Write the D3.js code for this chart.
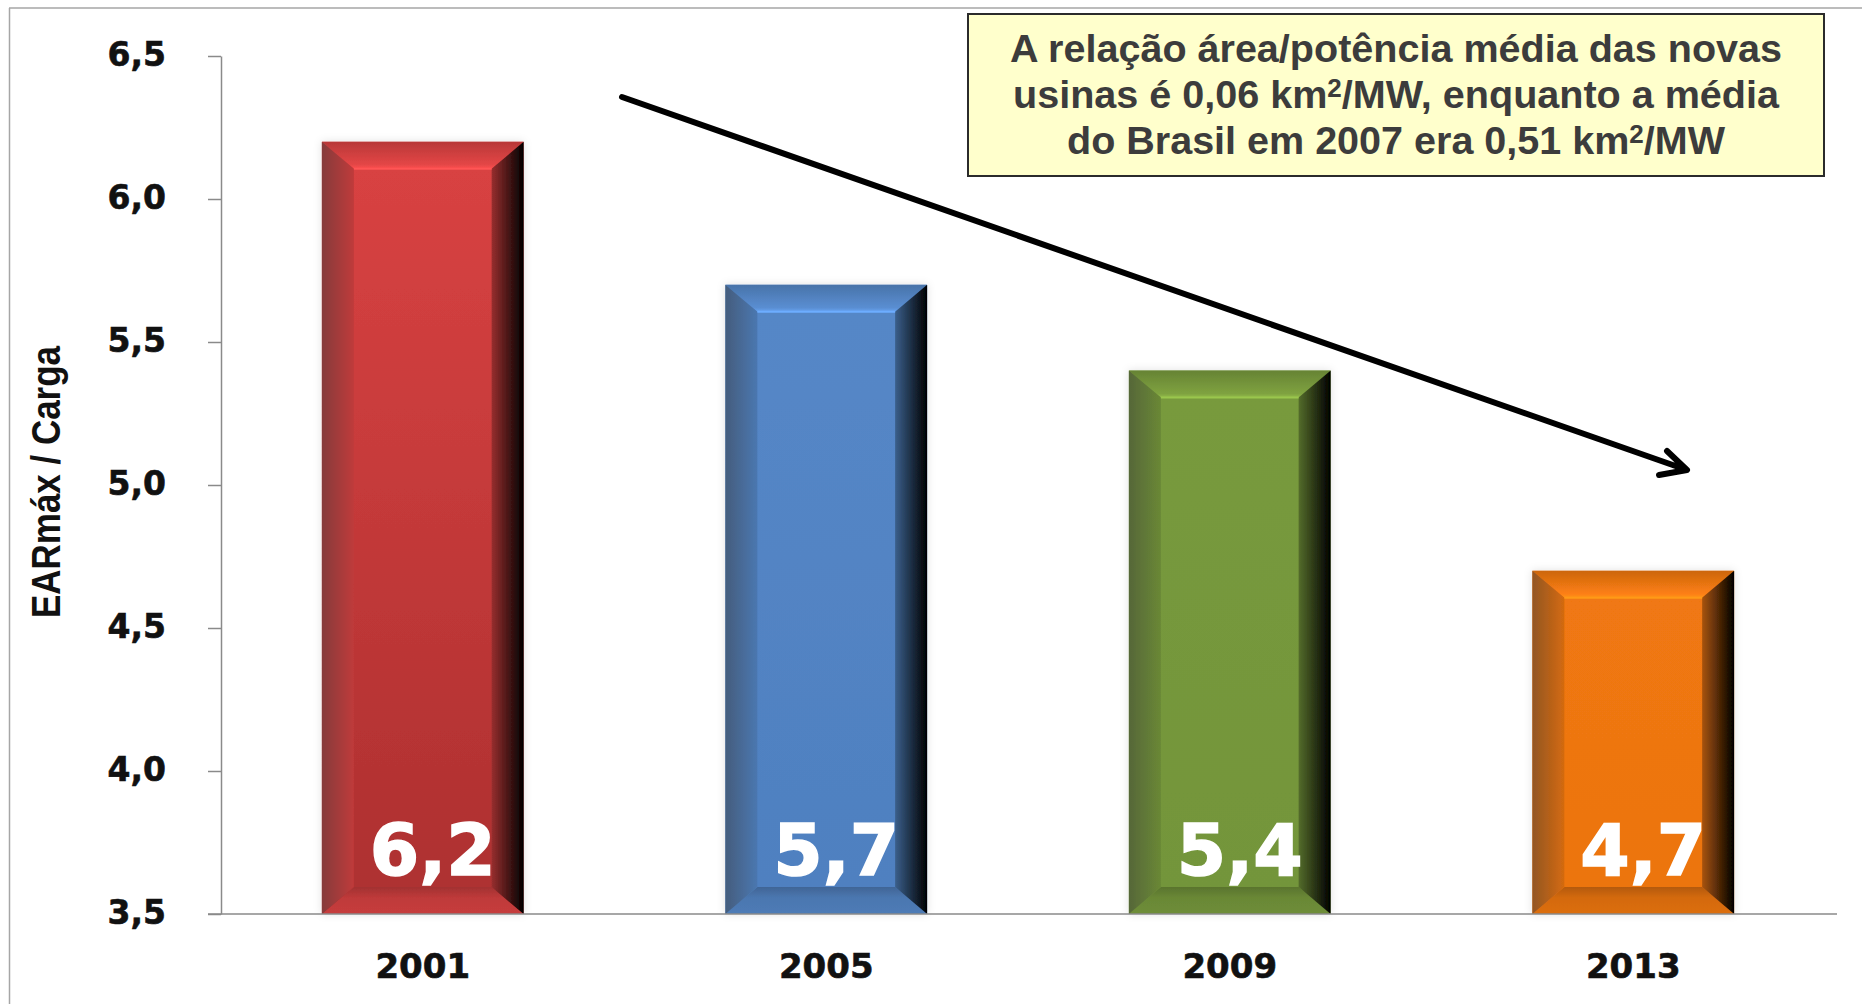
<!DOCTYPE html>
<html>
<head>
<meta charset="utf-8">
<script src="https://cdn.jsdelivr.net/npm/d3@7"></script>
<style>
  html, body { margin: 0; padding: 0; background: #ffffff; }
  svg { display: block; }
</style>
</head>
<body>
<svg id="chart" width="1862" height="1004"></svg>
<script>
// ---- data ----
const categories = ["2001", "2005", "2009", "2013"];
const values = [6.2, 5.7, 5.4, 4.7];
const valueLabels = ["6,2", "5,7", "5,4", "4,7"];
const yTicks = [3.5, 4.0, 4.5, 5.0, 5.5, 6.0, 6.5];
const yTickLabels = ["3,5", "4,0", "4,5", "5,0", "5,5", "6,0", "6,5"];
const yTitle = "EARmáx / Carga";
const noteLines = [
  [["A relação área/potência média das novas", false]],
  [["usinas é 0,06 km", false], ["2", true], ["/MW, enquanto a média", false]],
  [["do Brasil em 2007 era 0,51 km", false], ["2", true], ["/MW", false]]
];
// ---- styles ----
const barColors = ["#d84242", "#5587c7", "#789a3d", "#f07812"];
const faceBottomColors = ["#ae3030", "#4f80c0", "#73953a", "#ec7410"];

const svg = d3.select("#chart");
const defs = svg.append("defs");

const x = d3.scaleBand().domain(categories).range([221, 1835]).paddingInner(0.5).paddingOuter(0.25);
const y = d3.scaleLinear().domain([3.5, 6.5]).range([914, 56]);

// frame
svg.append("line").attr("x1", 9.5).attr("x2", 9.5).attr("y1", 8).attr("y2", 1004)
  .attr("stroke", "#a6a6a6").attr("stroke-width", 1.5);
svg.append("line").attr("x1", 9).attr("x2", 1862).attr("y1", 8).attr("y2", 8)
  .attr("stroke", "#a6a6a6").attr("stroke-width", 1.5);

// soft shadow
const sh = defs.append("filter").attr("id", "glow").attr("x", "-10%").attr("y", "-10%").attr("width", "120%").attr("height", "120%");
sh.append("feGaussianBlur").attr("in", "SourceAlpha").attr("stdDeviation", 4).attr("result", "b");
sh.append("feFlood").attr("flood-color", "#000").attr("flood-opacity", 0.12);
sh.append("feComposite").attr("in2", "b").attr("operator", "in").attr("result", "s");
const fm = sh.append("feMerge");
fm.append("feMergeNode").attr("in", "s");
fm.append("feMergeNode").attr("in", "SourceGraphic");

function grad(id, x1, y1, x2, y2, stops) {
  const g = defs.append("linearGradient").attr("id", id)
    .attr("x1", x1).attr("y1", y1).attr("x2", x2).attr("y2", y2);
  stops.forEach(s => g.append("stop").attr("offset", s[0]).attr("stop-color", s[1]));
}

// bars
const bw = 32, bt = 27;
categories.forEach((c, i) => {
  const base = d3.color(barColors[i]);
  const x0 = x(c), x1 = x(c) + x.bandwidth();
  const y0 = y(values[i]), y1 = y(3.5);
  grad("face" + i, 0, 0, 0, 1, [[0, base.formatHex()], [1, faceBottomColors[i]]]);
  grad("top" + i, 0, 0, 0, 1, [[0, base.darker(0.45).formatHex()], [0.85, base.brighter(0.15).formatHex()], [1, base.brighter(0.55).formatHex()]]);
  grad("left" + i, 0, 0, 1, 0, [[0, d3.interpolateRgb(base, "#333")(0.5)], [1, base.darker(0.35).formatHex()]]);
  grad("right" + i, 0, 0, 1, 0, [[0, base.darker(1.0).formatHex()], [1, "#000000"]]);
  grad("bot" + i, 0, 0, 0, 1, [[0, base.darker(0.8).formatHex()], [0.4, base.darker(0.35).formatHex()], [1, base.darker(0.25).formatHex()]]);

  const g = svg.append("g").attr("filter", "url(#glow)");
  g.append("rect").attr("x", x0).attr("y", y0).attr("width", x1 - x0).attr("height", y1 - y0)
    .attr("fill", "url(#face" + i + ")");
  g.append("rect").attr("x", x0 + bw).attr("y", y0 + bt).attr("width", x1 - x0 - 2 * bw).attr("height", y1 - y0 - 2 * bt)
    .attr("fill", "url(#face" + i + ")");
  const poly = (pts, fill) => g.append("polygon").attr("points", pts.map(p => p.join(",")).join(" ")).attr("fill", fill);
  poly([[x0, y0], [x1, y0], [x1 - bw, y0 + bt], [x0 + bw, y0 + bt]], "url(#top" + i + ")");
  poly([[x0, y1], [x1, y1], [x1 - bw, y1 - bt], [x0 + bw, y1 - bt]], "url(#bot" + i + ")");
  poly([[x0, y0], [x0 + bw, y0 + bt], [x0 + bw, y1 - bt], [x0, y1]], "url(#left" + i + ")");
  poly([[x1, y0], [x1 - bw, y0 + bt], [x1 - bw, y1 - bt], [x1, y1]], "url(#right" + i + ")");
  g.append("line").attr("x1", x0 + bw).attr("x2", x1 - bw).attr("y1", y0 + bt).attr("y2", y0 + bt)
    .attr("stroke", base.brighter(0.7).formatHex()).attr("stroke-width", 2);

  svg.append("text").attr("x", (x0 + x1) / 2 + 10).attr("y", 875)
    .attr("text-anchor", "middle").attr("fill", "#ffffff")
    .attr("stroke", "#ffffff").attr("stroke-width", 1.5)
    .attr("font-family", "DejaVu Sans").attr("font-weight", "bold").attr("font-size", 71)
    .text(valueLabels[i]);
});

// axes
const axisColor = "#8a8a8a";
const yAxis = svg.append("g").attr("transform", "translate(221,0)")
  .call(d3.axisLeft(y).tickValues(yTicks).tickSize(13).tickSizeOuter(0).tickFormat((d, i) => yTickLabels[i]));
yAxis.select(".domain").attr("stroke", axisColor).attr("stroke-width", 1.5);
yAxis.selectAll(".tick line").attr("stroke", axisColor).attr("stroke-width", 1.5);
yAxis.selectAll(".tick text").attr("x", -55).attr("dy", "0.3em").attr("fill", "#111")
  .attr("stroke", "#111").attr("stroke-width", 0.6)
  .attr("font-family", "DejaVu Sans").attr("font-weight", "bold").attr("font-size", 33);

const xAxis = svg.append("g").attr("transform", "translate(0,914)")
  .call(d3.axisBottom(x).tickSize(0).tickSizeOuter(0));
xAxis.select(".domain").attr("stroke", axisColor).attr("stroke-width", 1.5).attr("d", "M208,0H1837");
xAxis.selectAll(".tick text").attr("y", 0).attr("dy", 64).attr("fill", "#111")
  .attr("stroke", "#111").attr("stroke-width", 0.6)
  .attr("font-family", "DejaVu Sans").attr("font-weight", "bold").attr("font-size", 34);

// y title
svg.append("text").attr("transform", "translate(60,482) rotate(-90)")
  .attr("text-anchor", "middle").attr("fill", "#111")
  .attr("font-family", "Liberation Sans Narrow, Liberation Sans, Arial").attr("font-weight", "bold").attr("font-size", 40)
  .attr("textLength", 272).attr("lengthAdjust", "spacingAndGlyphs")
  .text(yTitle);

// arrow
const ax0 = 622, ay0 = 97, ax1 = 1687, ay1 = 470;
svg.append("path")
  .attr("d", `M${ax0},${ay0}L${ax1},${ay1}M1667,451L${ax1},${ay1}L1659,475`)
  .attr("fill", "none").attr("stroke", "#000").attr("stroke-width", 6)
  .attr("stroke-linecap", "round").attr("stroke-linejoin", "round");

// note box
svg.append("rect").attr("x", 968).attr("y", 14).attr("width", 856).attr("height", 162)
  .attr("fill", "#ffffcc").attr("stroke", "#2b2b2b").attr("stroke-width", 2);
const lineWidths = [772, 766, 658];
const baselines = [62, 108, 154];
noteLines.forEach((parts, li) => {
  const t = svg.append("text").attr("x", 1396).attr("y", baselines[li])
    .attr("text-anchor", "middle").attr("fill", "#3c3c3c")
    .attr("font-family", "Liberation Sans Narrow, Liberation Sans, Arial").attr("font-weight", "bold").attr("font-size", 38)
    .attr("textLength", lineWidths[li]).attr("lengthAdjust", "spacingAndGlyphs");
  parts.forEach(([s, sup]) => {
    const ts = t.append("tspan").text(s);
    if (sup) ts.attr("font-size", 25).attr("baseline-shift", "45%");
  });
});
</script>
</body>
</html>
